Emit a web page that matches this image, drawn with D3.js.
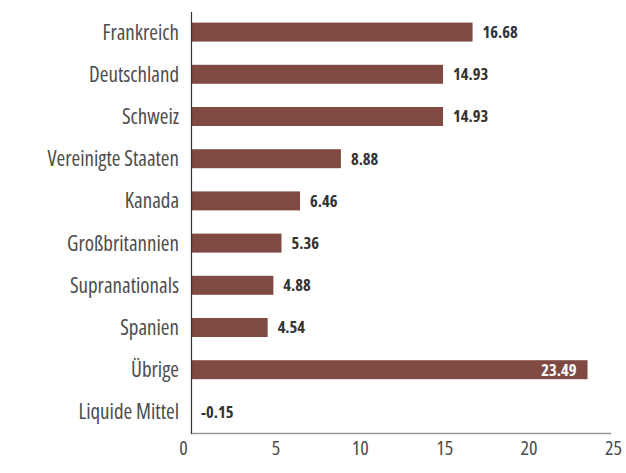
<!DOCTYPE html>
<html><head><meta charset="utf-8">
<script src="https://cdn.jsdelivr.net/npm/d3@7"></script>
<style>
html,body{margin:0;padding:0;background:#fff;}
svg{display:block;}
svg text{font-family:"Open Sans",sans-serif;font-stretch:condensed;}
</style></head>
<body>
<svg id="c" width="626" height="473"></svg>
<script>
const categories = ["Frankreich","Deutschland","Schweiz","Vereinigte Staaten","Kanada","Großbritannien","Supranationals","Spanien","Übrige","Liquide Mittel"];
const values = [16.68,14.93,14.93,8.88,6.46,5.36,4.88,4.54,23.49,-0.15];
const valueLabels = ["16.68","14.93","14.93","8.88","6.46","5.36","4.88","4.54","23.49","-0.15"];
const xTicks = [0,5,10,15,20,25];

const svg = d3.select("#c");
const x = d3.scaleLinear().domain([0,25]).range([191,613]).clamp(true);
const y = d3.scaleBand().domain(categories).range([11,433]).paddingInner(0.55).paddingOuter(0.275);

const barColor = "#7e4a42";

svg.append("g").selectAll("rect").data(categories).join("rect")
  .attr("x", (d,i)=> Math.min(x(0), x(values[i])))
  .attr("y", d=> y(d))
  .attr("width", (d,i)=> Math.abs(x(values[i])-x(0)))
  .attr("height", y.bandwidth())
  .attr("fill", barColor);

// category labels
svg.append("g").selectAll("text").data(categories).join("text")
  .attr("x", 179)
  .attr("y", d=> y(d)+y.bandwidth()/2)
  .attr("dy","0.36em")
  .attr("text-anchor","end")
  .attr("font-size","21px")
  .attr("fill","#4d4d4d")
  .text(d=>d);

// value labels
svg.append("g").selectAll("text").data(categories).join("text")
  .attr("x", (d,i)=> values[i] > 20 ? x(values[i]) - 11 : x(Math.max(0,values[i])) + 10)
  .attr("y", d=> y(d)+y.bandwidth()/2)
  .attr("dy","0.36em")
  .attr("text-anchor",(d,i)=> values[i] > 20 ? "end" : "start")
  .attr("font-size","16.5px")
  .attr("font-weight","bold")
  .attr("fill",(d,i)=> values[i] > 20 ? "#fff" : "#333")
  .text((d,i)=>valueLabels[i]);

// x axis
const xAxis = svg.append("g").attr("transform","translate(0,433)")
  .call(d3.axisBottom(x).tickValues(xTicks).tickSize(0).tickPadding(8).tickFormat(d3.format("d")));
xAxis.select(".domain").attr("stroke","#999").attr("stroke-width",1.5).attr("d","M191,0.5H611");
xAxis.selectAll(".tick text").attr("font-size","20px").attr("fill","#4d4d4d")
  .attr("font-family",null)
  .attr("dx", d=> d===0 ? -8 : 0);

// y axis line
svg.append("line").attr("x1",191.5).attr("x2",191.5).attr("y1",12).attr("y2",434)
  .attr("stroke","#333").attr("stroke-width",1.2);
</script>
</body></html>
